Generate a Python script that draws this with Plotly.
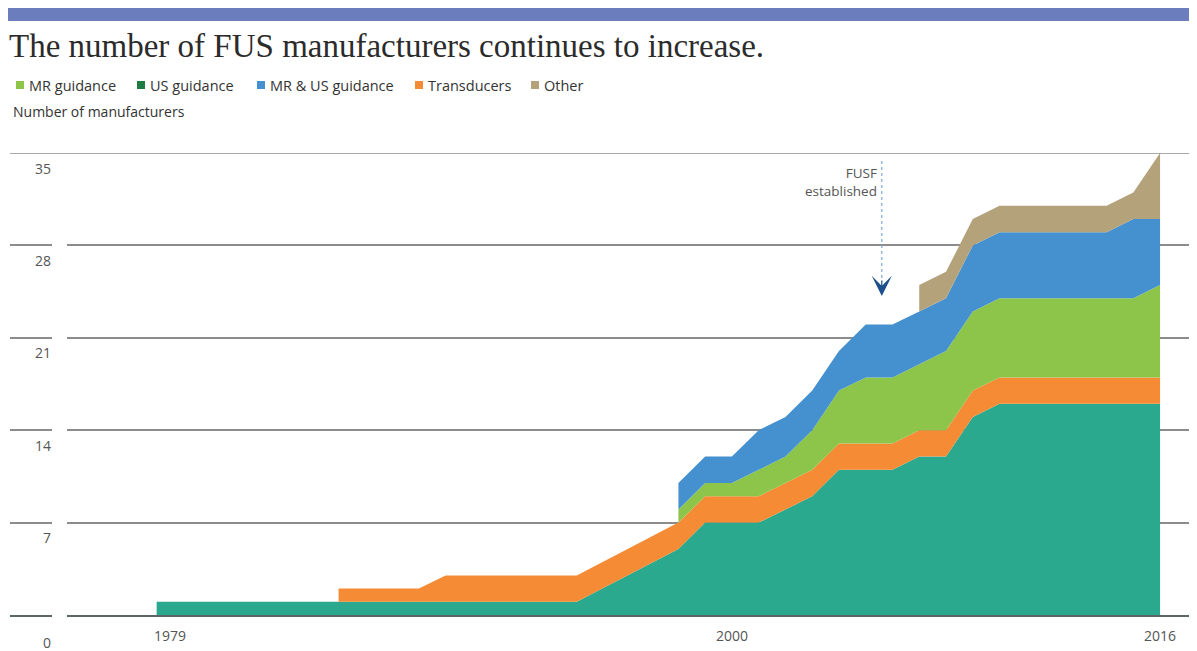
import plotly.graph_objects as go

# ---------------- data ----------------
years = [1978.5, 1985.3, 1988.3, 1989.3, 1994.2, 1998, 1999, 2000, 2001, 2002,
         2003, 2004, 2005, 2006, 2007, 2008, 2009, 2010, 2014, 2015, 2016]
us_guidance = [1, 1, 1, 1, 1, 5, 7, 7, 7, 8, 9, 11, 11, 11, 12, 12, 15, 16, 16, 16, 16]
transducers = [None, 1, 1, 2, 2, 2, 2, 2, 2, 2, 2, 2, 2, 2, 2, 2, 2, 2, 2, 2, 2]
mr_guidance = [None] * 5 + [1, 1, 1, 2, 2, 3, 4, 5, 5, 5, 6, 6, 6, 6, 6, 7]
mr_us_guidance = [None] * 5 + [2, 2, 2, 3, 3, 3, 3, 4, 4, 4, 4, 5, 5, 5, 6, 5]
other = [None] * 14 + [2, 2, 2, 2, 2, 2, 5]

y_ticks = [0, 7, 14, 21, 28, 35]
x_tick_years = [1979, 2000, 2016]
x_tick_text = ["1979", "2000", "2016"]

legend_labels = ["MR guidance", "US guidance", "MR & US guidance", "Transducers", "Other"]

fusf_year = 2005.6
fusf_label = "FUSF<br>established"

# ---------------- styling ----------------
TEAL = "#2ba98f"
ORANGE = "#f58b34"
GREEN = "#8dc54b"
BLUE = "#4590cf"
TAN = "#b3a27a"
DARK_GREEN = "#1e7c40"
BAR = "#6c7dbd"
GRID = "#8c8c8c"
TXT = "#555555"
SANS = "Open Sans, Noto Sans, sans-serif"

legend_colors = [GREEN, DARK_GREEN, BLUE, ORANGE, TAN]
legend_left_px = [16, 137, 257, 415, 531]     # layout positions of the legend keys

OFF = 8                      # page body margin of the html page
W, H = 1197 - OFF, 651 - OFF
ML, MR, MT, MB = 10 - OFF, 0, 153 - OFF, 36
PW, PH = W - ML - MR, H - MT - MB


def px_x(px):
    """screen pixel -> paper x"""
    return (px - OFF - ML) / PW


def px_y(py):
    """screen pixel -> paper y"""
    return (H - MB - (py - OFF)) / PH


stack = [
    ("US guidance", us_guidance, TEAL),
    ("Transducers", transducers, ORANGE),
    ("MR guidance", mr_guidance, GREEN),
    ("MR & US guidance", mr_us_guidance, BLUE),
    ("Other", other, TAN),
]

# common x with a duplicated point where a series begins (vertical edge)
xs, rows = [], []
for i, yr in enumerate(years):
    vals = [0 if s[i] is None else s[i] for _, s, _ in stack]
    starts = [i > 0 and s[i] is not None and s[i - 1] is None for _, s, _ in stack]
    if any(starts):
        xs.append(yr)
        rows.append([0 if st else v for v, st in zip(vals, starts)])
    xs.append(yr)
    rows.append(vals)

fig = go.Figure()
cum = [0] * len(xs)
for k, (name, s, color) in enumerate(stack):
    cum = [c + r[k] for c, r in zip(cum, rows)]
    fig.add_trace(go.Scatter(
        x=xs, y=cum, mode="lines", line=dict(width=0, color=color),
        fill="tozeroy" if k == 0 else "tonexty", fillcolor=color,
        name=name, showlegend=False, hoverinfo="skip"))

annotations = []
shapes = [
    dict(type="rect", xref="paper", yref="paper", x0=px_x(8), x1=1.0,
         y0=px_y(21), y1=px_y(8), fillcolor=BAR, line=dict(width=0)),
    # top gridline (35)
    dict(type="line", xref="paper", yref="y", x0=px_x(10), x1=1.0, y0=35, y1=35,
         line=dict(color=GRID, width=1.5), layer="below"),
    # small gap in the gridlines next to the value labels
    dict(type="rect", xref="paper", yref="paper", x0=px_x(52), x1=px_x(67),
         y0=px_y(618), y1=px_y(157), fillcolor="white", line=dict(width=0),
         layer="above"),
    # dotted pointer of the FUSF note
    dict(type="line", xref="x", yref="y", x0=fusf_year, x1=fusf_year,
         y0=px_y(161) * 35, y1=px_y(282) * 35,
         line=dict(color="#7fa9d4", width=1.2, dash="dot")),
]

# legend keys (squares + labels)
for label, color, left in zip(legend_labels, legend_colors, legend_left_px):
    shapes.append(dict(type="rect", xref="paper", yref="paper",
                       x0=px_x(left), x1=px_x(left + 8),
                       y0=px_y(89), y1=px_y(81), fillcolor=color, line=dict(width=0)))
    annotations.append(dict(
        x=px_x(left + 11), xref="paper", y=px_y(85), yref="paper", text=label,
        showarrow=False, xanchor="left", yanchor="middle",
        font=dict(family=SANS, size=14.5, color="#333333")))

for v in y_ticks:
    annotations.append(dict(
        x=px_x(53), xref="paper", y=v, yref="y", text=str(v), showarrow=False,
        xanchor="right", yanchor="middle", yshift=-27 if v == 0 else -15,
        font=dict(family=SANS, size=14, color=TXT)))

annotations.append(dict(
    x=px_x(11), xref="paper", y=px_y(112), yref="paper",
    text="Number of manufacturers", showarrow=False, xanchor="left",
    yanchor="middle", font=dict(family=SANS, size=14, color="#333333")))

annotations.append(dict(
    x=fusf_year, y=px_y(182) * 35, xref="x", yref="y", text=fusf_label,
    showarrow=False, xanchor="right", yanchor="middle", align="right", xshift=-3,
    font=dict(family=SANS, size=13.5, color=TXT)))

annotations.append(dict(
    x=fusf_year, y=px_y(296) * 35, ax=fusf_year, ay=px_y(279) * 35,
    xref="x", yref="y", axref="x", ayref="y", text="", showarrow=True,
    arrowhead=3, arrowsize=2.8, arrowwidth=1.2, arrowcolor="#1d4f8c"))

fig.update_layout(
    width=W, height=H,
    margin=dict(l=ML, r=MR, t=MT, b=MB, autoexpand=False),
    paper_bgcolor="white", plot_bgcolor="white",
    title=dict(text="The number of FUS manufacturers continues to increase.",
               x=(9 - OFF) / W, xanchor="left", xref="container",
               y=1 - (45 - OFF) / H, yanchor="middle", yref="container",
               font=dict(family="Liberation Serif, serif", size=33, color="#2b2b2b")),
    showlegend=False,
    xaxis=dict(range=[1973.02, 2017.38], tickvals=x_tick_years, ticktext=x_tick_text,
               showgrid=False, zeroline=False, showline=True, linecolor="#5c6666",
               linewidth=1.5, ticks="", ticklabelstandoff=7,
               tickfont=dict(family=SANS, size=14, color=TXT), fixedrange=True),
    yaxis=dict(range=[0, 35], tickvals=y_ticks, showticklabels=False,
               showgrid=True, gridcolor=GRID, gridwidth=1.5, zeroline=False,
               showline=False, fixedrange=True),
    annotations=annotations,
    shapes=shapes,
)

fig.write_html("out.html")
